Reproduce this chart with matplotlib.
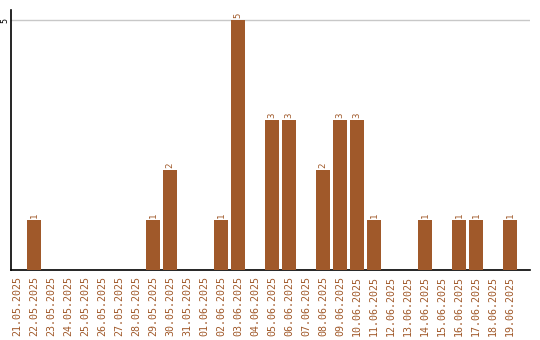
import matplotlib
matplotlib.use("Agg")
import matplotlib.pyplot as plt

dates = ["21.05.2025","22.05.2025","23.05.2025","24.05.2025","25.05.2025","26.05.2025",
         "27.05.2025","28.05.2025","29.05.2025","30.05.2025","31.05.2025","01.06.2025",
         "02.06.2025","03.06.2025","04.06.2025","05.06.2025","06.06.2025","07.06.2025",
         "08.06.2025","09.06.2025","10.06.2025","11.06.2025","12.06.2025","13.06.2025",
         "14.06.2025","15.06.2025","16.06.2025","17.06.2025","18.06.2025","19.06.2025"]
values = [0,1,0,0,0,0,0,0,1,2,0,0,1,5,0,3,3,0,2,3,3,1,0,0,1,0,1,1,0,1]

color = "#A0592A"
fig = plt.figure(figsize=(5.4, 3.4), dpi=100)
ax = fig.add_axes([11/540, 70/340, 519/540, 260/340])
x = list(range(len(dates)))
ax.bar(x, values, width=0.82, color=color, zorder=3)
for xi, v in zip(x, values):
    if v > 0:
        ax.text(xi, v + 0.05, str(v), rotation=90, ha="center", va="bottom",
                color=color, fontsize=6.5, family="DejaVu Sans Mono")
ax.set_xlim(-0.35, 30.18)
ax.set_ylim(0, 5.2)
ax.set_yticks([5])
ax.set_yticklabels(["5"], rotation=90, va="center", fontsize=6, family="DejaVu Sans Mono")
ax.yaxis.grid(True, color="#c8c8c8", linewidth=1, zorder=0)
ax.set_xticks(x)
ax.set_xticklabels(dates, rotation=90, color=color, fontsize=7.2, family="DejaVu Sans Mono")
ax.tick_params(axis="x", length=0, pad=4)
ax.tick_params(axis="y", length=0, pad=1)
for s in ["top", "right"]:
    ax.spines[s].set_visible(False)
ax.spines["left"].set_color("black")
ax.spines["bottom"].set_color("black")
ax.spines["left"].set_linewidth(1.2)
ax.spines["bottom"].set_linewidth(1.2)
fig.savefig("out.png", dpi=100)
